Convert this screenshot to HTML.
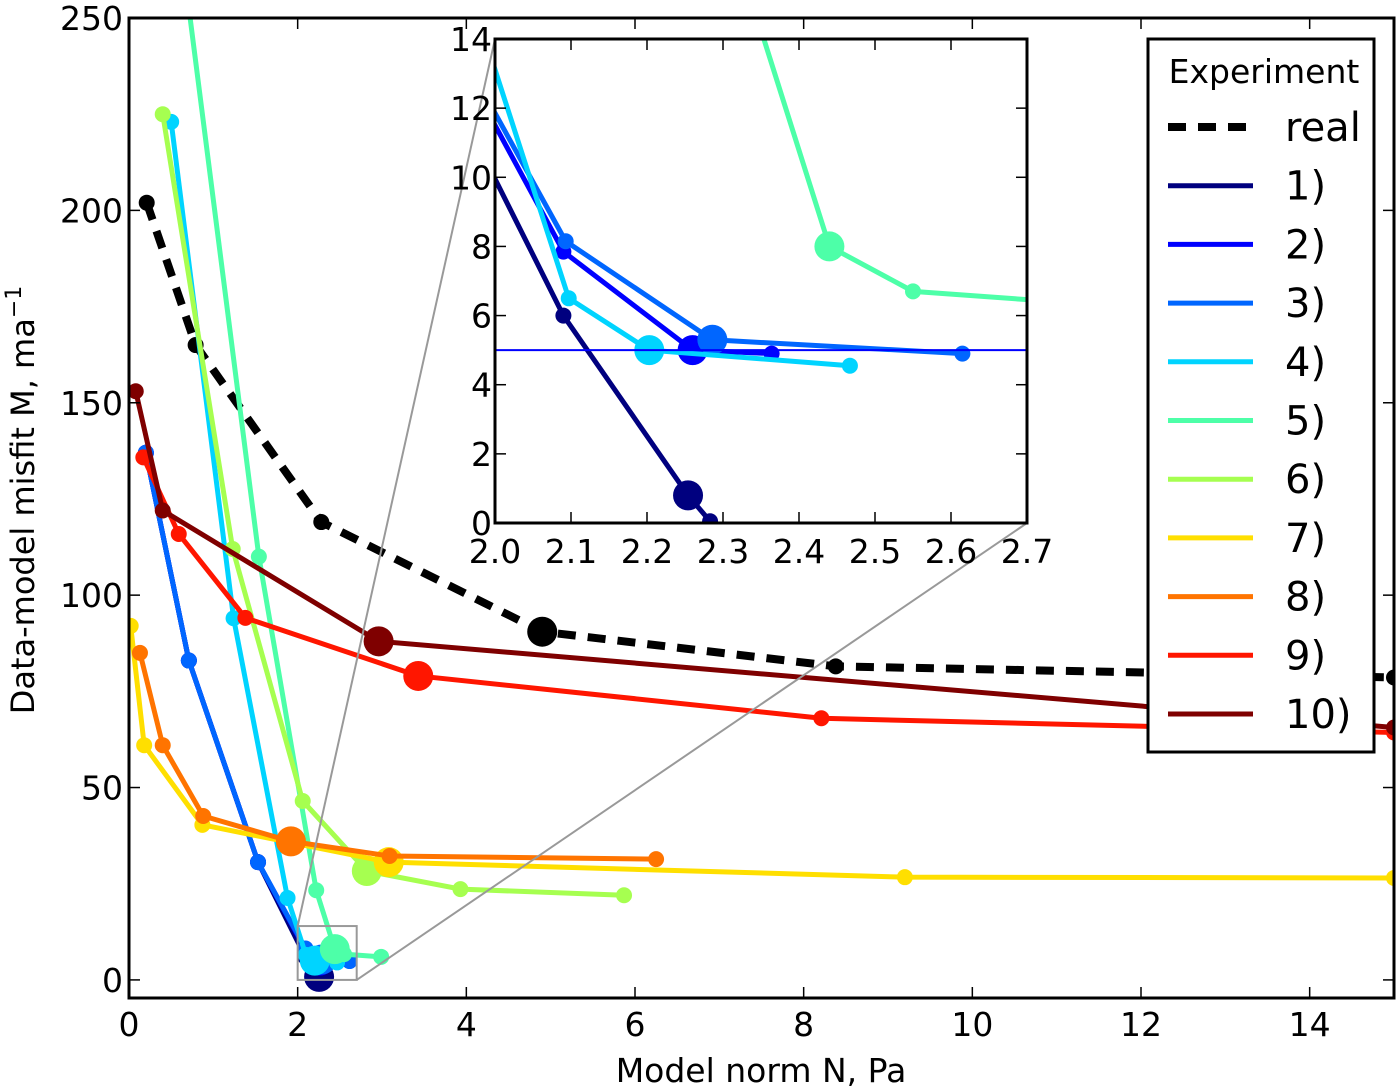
<!DOCTYPE html>
<html><head><meta charset="utf-8"><style>
html,body{margin:0;padding:0;background:#fff;}
svg{display:block;font-family:"DejaVu Sans","Liberation Sans",sans-serif;}
</style></head><body>
<svg id="chart" width="1400" height="1091" viewBox="0 0 1400 1091" xmlns="http://www.w3.org/2000/svg">
<defs>
<clipPath id="mainClip"><rect x="129" y="18" width="1265" height="980"/></clipPath>
<clipPath id="insetClip"><rect x="495" y="39" width="532" height="484"/></clipPath>
</defs>
<rect x="0" y="0" width="1400" height="1091" fill="#fff"/>
<g id="mainSeries" clip-path="url(#mainClip)"></g>
<g id="mainAxes"></g>
<g id="zoomMarks"></g>
<g id="inset"></g>
<g id="legend"></g>
<text x="34" y="500" font-size="32" text-anchor="middle" transform="rotate(-90 34 500)">Data-model misfit M, ma<tspan dy="-13" font-size="22">−1</tspan></text>
<text x="761" y="1082" font-size="33" text-anchor="middle">Model norm N, Pa</text>
</svg>
<script>
// ---- data ----
const seriesNames = ["real","1)","2)","3)","4)","5)","6)","7)","8)","9)","10)"];
const seriesColors = ["#000000","#00007f","#0000ff","#0066ff","#00d4ff","#4dffa8","#a6ff50","#ffdf00","#ff7400","#ff1600","#7f0000"];
const realX = [0.21,0.79,2.28,4.9,8.38,15];
const realY = [202,165,119,90.5,81.5,78.6];
const s1X = [0.2,0.71,1.53,2.09,2.254,2.283];
const s1Y = [137,83,30.6,6.0,0.8,0.05];
const s2X = [0.2,0.71,1.53,2.09,2.26,2.364];
const s2Y = [137,83,30.6,7.85,5.0,4.9];
const s3X = [0.2,0.71,1.53,2.093,2.286,2.615];
const s3Y = [137,83,30.6,8.15,5.3,4.9];
const s4X = [0.5,1.24,1.88,2.097,2.203,2.467];
const s4Y = [223,94,21.3,6.5,5.0,4.55];
const s5X = [0.55,1.54,2.22,2.44,2.55,2.99];
const s5Y = [280,110,23.3,8.0,6.7,6.0];
const s6X = [0.40,1.23,2.06,2.82,3.93,5.87];
const s6Y = [225,112,46.5,28.3,23.6,22];
const s7X = [0.02,0.18,0.87,3.08,9.2,15];
const s7Y = [92,61,40.3,30.6,26.7,26.5];
const s8X = [0.13,0.4,0.88,1.92,3.09,6.25];
const s8Y = [85,61,42.6,36,32.2,31.4];
const s9X = [0.17,0.59,1.38,3.43,8.21,15];
const s9Y = [135.8,115.9,94.1,79,68,64.3];
const s10X = [0.08,0.4,2.96,15];
const s10Y = [153,122,88,65.6];
const bigIndex = [3,4,4,4,4,3,3,3,3,3,2];
const mainXTicks = [0,2,4,6,8,10,12,14];
const mainYTicks = [0,50,100,150,200,250];
const insetXTicks = [2.0,2.1,2.2,2.3,2.4,2.5,2.6,2.7];
const insetYTicks = [0,2,4,6,8,10,12,14];
const refLineY = [5];

const allX=[realX,s1X,s2X,s3X,s4X,s5X,s6X,s7X,s8X,s9X,s10X];
const allY=[realY,s1Y,s2Y,s3Y,s4Y,s5Y,s6Y,s7Y,s8Y,s9Y,s10Y];
const NS="http://www.w3.org/2000/svg";
function mk(tag,attrs,parent){const e=document.createElementNS(NS,tag);for(const k in attrs)e.setAttribute(k,attrs[k]);parent.appendChild(e);return e;}

const mL=129,mR=1394,mT=18,mB=998;
const mx=v=>mL+v*(mR-mL)/15;
const my=v=>mB-(v+4.7)*(mB-mT)/254.7;
const iL=495,iR=1027,iT=39,iB=523;
const ix=v=>iL+(v-2.0)*(iR-iL)/0.7;
const iy=v=>iB-v*(iB-iT)/14;

function drawSeries(g,xf,yf,big,small){
  for(let s=0;s<allX.length;s++){
    const pts=allX[s].map((x,i)=>xf(x)+","+yf(allY[s][i])).join(" ");
    const pl=mk("polyline",{points:pts,fill:"none",stroke:seriesColors[s],"stroke-width":s===0?8:5,"stroke-linejoin":"round"},g);
    if(s===0)pl.setAttribute("stroke-dasharray","18,12");
    
    
    allX[s].forEach((x,i)=>{
      const c=mk("circle",{cx:xf(x),cy:yf(allY[s][i]),r:i===bigIndex[s]?big:small,fill:seriesColors[s]},g);
      
      
    });
  }
}
drawSeries(document.getElementById("mainSeries"),mx,my,15,8);

const ax=document.getElementById("mainAxes");
mk("rect",{x:mL,y:mT,width:mR-mL,height:mB-mT,fill:"none",stroke:"#000","stroke-width":3},ax);
mainXTicks.forEach(t=>{
  mk("line",{x1:mx(t),x2:mx(t),y1:mB,y2:mB-11,stroke:"#000","stroke-width":1.5},ax);
  mk("line",{x1:mx(t),x2:mx(t),y1:mT,y2:mT+11,stroke:"#000","stroke-width":1.5},ax);
  const tx=mk("text",{x:mx(t),y:mB+38,"font-size":33,"text-anchor":"middle"},ax);tx.textContent=t;
  
  
});
mainYTicks.forEach(t=>{
  mk("line",{x1:mL,x2:mL+11,y1:my(t),y2:my(t),stroke:"#000","stroke-width":1.5},ax);
  mk("line",{x1:mR,x2:mR-11,y1:my(t),y2:my(t),stroke:"#000","stroke-width":1.5},ax);
  const tx=mk("text",{x:mL-6,y:my(t)+12,"font-size":33,"text-anchor":"end"},ax);tx.textContent=t;
  
  
});

const zm=document.getElementById("zoomMarks");
mk("rect",{x:mx(2.0),y:my(14),width:mx(2.7)-mx(2.0),height:my(0)-my(14),fill:"none",stroke:"#999","stroke-width":2},zm);
mk("line",{x1:mx(2.0),y1:my(14),x2:iL,y2:iT,stroke:"#999","stroke-width":2},zm);
mk("line",{x1:mx(2.7),y1:my(0),x2:iR,y2:iB,stroke:"#999","stroke-width":2},zm);

const ins=document.getElementById("inset");
mk("rect",{x:iL,y:iT,width:iR-iL,height:iB-iT,fill:"#fff"},ins);
const ig=mk("g",{"clip-path":"url(#insetClip)"},ins);
drawSeries(ig,ix,iy,15,8);
refLineY.forEach(v=>{
  const l=mk("line",{x1:iL,x2:iR,y1:iy(v),y2:iy(v),stroke:"#0000ff","stroke-width":2},ig);
  
  
});
mk("rect",{x:iL,y:iT,width:iR-iL,height:iB-iT,fill:"none",stroke:"#000","stroke-width":3},ins);
insetXTicks.forEach(t=>{
  mk("line",{x1:ix(t),x2:ix(t),y1:iB,y2:iB-11,stroke:"#000","stroke-width":1.5},ins);
  mk("line",{x1:ix(t),x2:ix(t),y1:iT,y2:iT+11,stroke:"#000","stroke-width":1.5},ins);
  const tx=mk("text",{x:ix(t),y:iB+40,"font-size":33,"text-anchor":"middle"},ins);tx.textContent=t.toFixed(1);
  
  
});
insetYTicks.forEach(t=>{
  mk("line",{x1:iL,x2:iL+11,y1:iy(t),y2:iy(t),stroke:"#000","stroke-width":1.5},ins);
  mk("line",{x1:iR,x2:iR-11,y1:iy(t),y2:iy(t),stroke:"#000","stroke-width":1.5},ins);
  const tx=mk("text",{x:iL-3,y:iy(t)+12,"font-size":33,"text-anchor":"end"},ins);tx.textContent=t;
  
  
});

const lg=document.getElementById("legend");
mk("rect",{x:1148,y:39,width:226,height:713,fill:"#fff",stroke:"#000","stroke-width":3},lg);
const lt=mk("text",{x:1264,y:83,"font-size":33,"text-anchor":"middle"},lg);lt.textContent="Experiment";


seriesNames.forEach((n,i)=>{
  const y=127+i*58.7;
  const l=mk("line",{x1:1168,x2:1253,y1:y,y2:y,stroke:seriesColors[i],"stroke-width":i===0?8:5},lg);
  if(i===0)l.setAttribute("stroke-dasharray","18,12");
  
  
  const t=mk("text",{x:1285,y:y+14,"font-size":40},lg);t.textContent=n;
  
  
});
</script>
</body></html>
